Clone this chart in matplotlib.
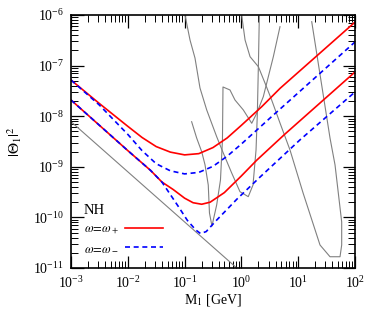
import numpy as np
import matplotlib
matplotlib.use('Agg')
import matplotlib.pyplot as plt
from matplotlib.ticker import LogLocator, NullFormatter

plt.rcParams['font.family'] = 'Liberation Serif'
plt.rcParams['mathtext.fontset'] = 'stix'

# NH, omega = omega_+  (red solid), upper and lower branch
m_rp1 = [1e-3, 3.16e-3, 1e-2, 1.78e-2, 3.16e-2, 5.62e-2, 0.1, 0.178, 0.316, 0.562, 1.0, 2.29, 4.79, 100]
t_rp1 = [5.19e-8, 1.78e-8, 6.31e-9, 3.80e-9, 2.51e-9, 1.95e-9, 1.72e-9, 1.82e-9, 2.40e-9, 3.72e-9, 6.61e-9, 1.55e-8, 3.55e-8, 7.24e-7]
m_rp2 = [1e-3, 1e-2, 2.51e-2, 3.98e-2, 6.31e-2, 0.1, 0.141, 0.2, 0.282, 0.501, 1.0, 1.86, 5.89, 100]
t_rp2 = [2.09e-8, 2.09e-9, 8.51e-10, 5.01e-10, 3.55e-10, 2.40e-10, 1.95e-10, 1.82e-10, 2.0e-10, 3.09e-10, 6.61e-10, 1.35e-9, 4.47e-9, 7.48e-8]

# NH, omega = omega_-  (blue dashed)
m_bm1 = [1e-3, 3.16e-3, 1e-2, 1.78e-2, 3.16e-2, 5.62e-2, 0.1, 0.178, 0.316, 0.562, 1.0, 3.39, 100]
t_bm1 = [5.19e-8, 1.66e-8, 4.37e-9, 2.09e-9, 1.15e-9, 8.32e-10, 7.24e-10, 7.76e-10, 1.02e-9, 1.62e-9, 2.82e-9, 9.77e-9, 2.93e-7]
m_bm2 = [1e-3, 1e-2, 2.51e-2, 3.98e-2, 5.62e-2, 7.94e-2, 0.112, 0.158, 0.191, 0.240, 0.355, 0.562, 0.832, 2.14, 10.7, 100]
t_bm2 = [2.09e-8, 2.09e-9, 8.51e-10, 5.01e-10, 2.82e-10, 1.58e-10, 8.71e-11, 5.62e-11, 4.79e-11, 5.25e-11, 8.51e-11, 1.45e-10, 2.29e-10, 6.31e-10, 3.39e-9, 3.01e-8]

# experimental bounds (grey)
m_bbn = [1e-3, 1.0]
t_bbn = [7.8e-9, 8.3e-12]

m_ps = [0.1016, 0.1245, 0.1524, 0.1866, 0.245, 0.367, 0.480, 0.675, 0.944, 1.32, 1.60, 1.81, 1.91, 2.0, 2.07]
t_ps = [1e-6, 3.21e-7, 1.41e-7, 3.61e-8, 1.33e-8, 3.94e-9, 1.87e-9, 7.53e-10, 3.22e-10, 2.57e-10, 4.36e-10, 2.15e-9, 1.16e-8, 1.29e-7, 1e-6]

m_bd = [1.01, 1.16, 1.42, 1.99, 2.60, 3.41, 4.78, 7.17, 12.2, 24.2, 36.3, 54.5, 58.3, 58.3, 44.5, 36.3, 17.3]
t_bd = [1e-6, 3.21e-7, 1.50e-7, 9.51e-8, 4.53e-8, 2.09e-8, 7.34e-9, 2.15e-9, 3.03e-10, 2.85e-11, 1.67e-11, 1.67e-11, 2.85e-11, 8.11e-11, 1.09e-9, 3.71e-9, 7.38e-7]

m_pe = [0.133, 0.163, 0.200, 0.229, 0.261, 0.274, 0.303, 0.367, 0.428, 0.464, 0.474, 0.629, 0.771, 1.08, 1.52, 1.86, 2.43, 3.65, 4.78]
t_pe = [7.78e-9, 3.71e-9, 1.99e-9, 1.09e-9, 4.36e-10, 1.22e-10, 6.76e-11, 1.76e-10, 5.48e-10, 3.39e-9, 3.78e-8, 3.30e-8, 2.09e-8, 1.33e-8, 7.25e-9, 1.14e-8, 2.43e-8, 1.50e-7, 5.88e-7]

xticks = [1e-3, 1e-2, 1e-1, 1e0, 1e1, 1e2]
yticks = [1e-11, 1e-10, 1e-9, 1e-8, 1e-7, 1e-6]

fig = plt.figure(figsize=(3.82, 3.2), dpi=100)
ax = fig.add_axes([71/382, 52/320, 284/382, 253/320])

grey = dict(color='#808080', lw=0.8)
ax.plot(m_bbn, t_bbn, **grey)
ax.plot(m_ps, t_ps, **grey)
ax.plot(m_bd, t_bd, **grey)
ax.plot(m_pe, t_pe, **grey)

ax.plot(m_rp1, t_rp1, color='red', lw=1.2, label=r'$\omega\!=\!\omega_+$')
ax.plot(m_bm1, t_bm1, color='blue', lw=1.2, ls=(0, (3, 2.2)), label=r'$\omega\!=\!\omega_-$')
ax.plot(m_rp2, t_rp2, color='red', lw=1.2)
ax.plot(m_bm2, t_bm2, color='blue', lw=1.2, ls=(0, (3, 2.2)))

ax.set_xscale('log')
ax.set_yscale('log')
ax.set_xlim(1e-3, 1e2)
ax.set_ylim(1e-11, 1e-6)
ax.set_xticks(xticks)
ax.set_yticks(yticks)
for a in (ax.xaxis, ax.yaxis):
    a.set_minor_locator(LogLocator(base=10, subs=np.arange(2, 10), numticks=20))
    a.set_minor_formatter(NullFormatter())
ax.tick_params(which='both', direction='in', top=True, right=True, labelsize=10)
ax.tick_params(which='major', length=9, width=0.9, pad=5)
ax.tick_params(which='minor', length=5, width=0.7)
for s in ax.spines.values():
    s.set_linewidth(1.2)

ax.set_xlabel(r'M$_1$ [GeV]', fontsize=10, labelpad=1)
ax.set_ylabel(r'$|\Theta_1|^2$', fontsize=11, labelpad=7)

leg = ax.legend(loc='lower left', bbox_to_anchor=(0.005, 0.008), frameon=False,
                markerfirst=False, title='NH', alignment='left', fontsize=9,
                title_fontsize=10.5, handlelength=3.0, labelspacing=0.5,
                handletextpad=0.5)

fig.savefig('out.png', dpi=100)
